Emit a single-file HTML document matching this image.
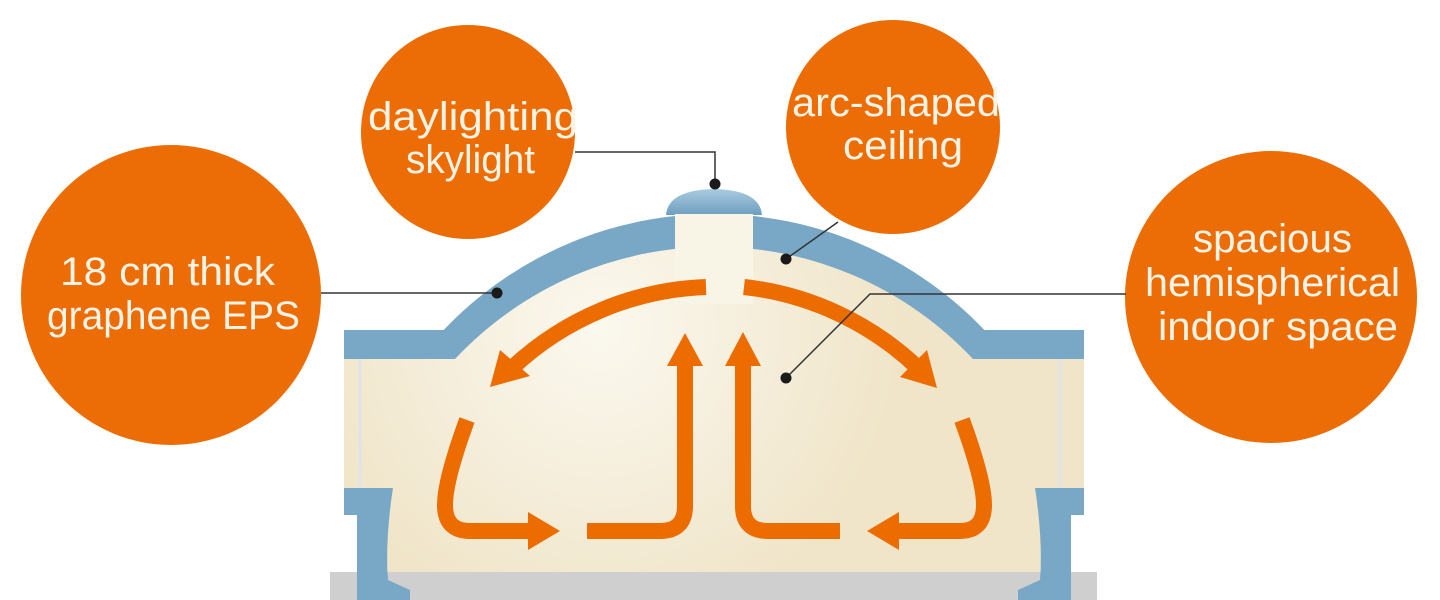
<!DOCTYPE html>
<html><head><meta charset="utf-8"><style>
html,body{margin:0;padding:0;background:#fff;width:1440px;height:600px;overflow:hidden;}
svg{display:block;}
text{font-family:"Liberation Sans",sans-serif;fill:#fdf3e6;}
</style></head><body>
<svg width="1440" height="600" viewBox="0 0 1440 600" xmlns="http://www.w3.org/2000/svg">
<defs>
<radialGradient id="glow" cx="600" cy="330" r="300" gradientUnits="userSpaceOnUse">
<stop offset="0" stop-color="#fbf8ef"/><stop offset="1" stop-color="#f0e5c9"/>
</radialGradient>
<linearGradient id="cap" x1="0" y1="0" x2="0" y2="1"><stop offset="0" stop-color="#a9cbe0"/><stop offset="1" stop-color="#6f9fc0"/></linearGradient>
<clipPath id="above"><rect x="0" y="0" width="1440" height="359"/></clipPath>
</defs>
<rect x="330" y="572" width="767" height="28" fill="#cfcfcf"/>
<circle cx="714" cy="587" r="373" fill="#78a8c6" clip-path="url(#above)"/>
<rect x="344" y="330" width="740" height="29" fill="#78a8c6"/>
<path d="M344,359 L1084,359 L1084,488 L1035,488 Q1043,540 1040,572 L388,572 Q385,540 393,488 L344,488 Z" fill="url(#glow)"/>
<path d="M455,359 A355,355 0 0 1 973,359 Z" fill="url(#glow)"/>
<line x1="360" y1="359" x2="360" y2="488" stroke="#dfe4ea" stroke-width="3"/>
<line x1="1060" y1="359" x2="1060" y2="488" stroke="#dfe4ea" stroke-width="3"/>
<path d="M344,488 L393,488 Q385,540 388,580 L410,590 L410,600 L357,600 L357,515 L344,515 Z" fill="#78a8c6"/>
<path d="M1084,488 L1035,488 Q1043,540 1040,580 L1018,590 L1018,600 L1071,600 L1071,515 L1084,515 Z" fill="#78a8c6"/>
<path d="M666,215 Q668,190 714,189 Q760,190 762,215 Z" fill="url(#cap)"/>
<rect x="675" y="214" width="78" height="90" fill="#f8f4e6"/>
<g fill="none" stroke="#ec6c00" stroke-width="16">
<path d="M706,287 A300,300 0 0 0 512,368"/>
<path d="M744,287 A300,300 0 0 1 918,368"/>
<path d="M467,420 Q445,480 445,505 Q445,531 470,531 L532,531"/>
<path d="M962,420 Q984,480 984,505 Q984,531 960,531 L896,531"/>
<path d="M587,531 L660,531 Q685,531 685,506 L685,362"/>
<path d="M840,531 L768,531 Q743,531 743,506 L743,362"/>
</g>
<g fill="#ec6c00">
<polygon points="490,387 500,350 530,376"/>
<polygon points="937,388 900,377 927,350"/>
<polygon points="560,531 528,512 528,550"/>
<polygon points="867,531 899,512 899,550"/>
<polygon points="685,333 667,366 703,366"/>
<polygon points="743,332 725,366 761,366"/>
</g>
<g fill="#ec6d06">
<circle cx="468" cy="132" r="107"/>
<circle cx="893" cy="127" r="107"/>
<circle cx="171" cy="295" r="150"/>
<circle cx="1271" cy="297" r="146"/>
</g>
<g stroke="#333" stroke-width="1.5" fill="none">
<path d="M575,152 L715,152 L715,184"/>
<path d="M321,293 L497,293"/>
<path d="M838,222 L786,259"/>
<path d="M1126,294 L870,294 L786,378"/>
</g>
<g fill="#1a1a1a">
<circle cx="715" cy="184" r="5.5"/>
<circle cx="497" cy="293" r="5.5"/>
<circle cx="786" cy="259" r="5.5"/>
<circle cx="786" cy="378" r="5.5"/>
</g>
<g font-size="40" lengthAdjust="spacingAndGlyphs">
<text x="368" y="130" textLength="210" lengthAdjust="spacingAndGlyphs">daylighting</text>
<text x="406" y="173" textLength="129" lengthAdjust="spacingAndGlyphs">skylight</text>
<text x="792" y="116" textLength="208" lengthAdjust="spacingAndGlyphs">arc-shaped</text>
<text x="843" y="159" textLength="120" lengthAdjust="spacingAndGlyphs">ceiling</text>
<text x="60" y="285" textLength="215" lengthAdjust="spacingAndGlyphs">18 cm thick</text>
<text x="47" y="329" textLength="253" lengthAdjust="spacingAndGlyphs">graphene EPS</text>
<text x="1193" y="252" textLength="159" lengthAdjust="spacingAndGlyphs">spacious</text>
<text x="1145" y="296" textLength="255" lengthAdjust="spacingAndGlyphs">hemispherical</text>
<text x="1158" y="340" textLength="240" lengthAdjust="spacingAndGlyphs">indoor space</text>
</g>
</svg>
</body></html>
